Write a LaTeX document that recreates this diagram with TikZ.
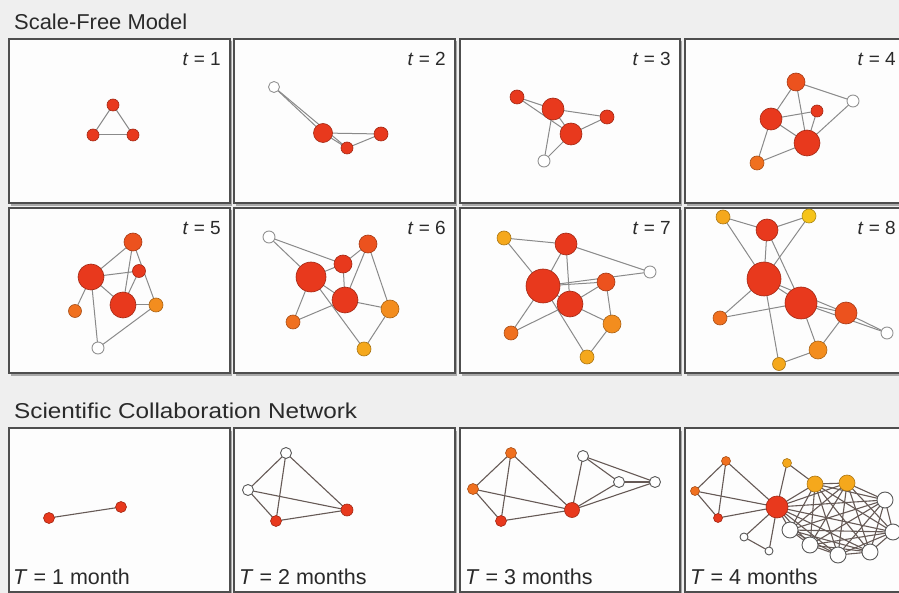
\documentclass[tikz,border=0pt]{standalone}
\usepackage{fontspec}
\setmainfont{Liberation Sans}
\pgfdeclarelayer{panels}
\pgfdeclarelayer{edges}
\pgfsetlayers{panels,edges,main}
\definecolor{bgc}{HTML}{EFEFEF}
\definecolor{pnl}{HTML}{FDFDFD}
\definecolor{pbd}{HTML}{4E4E4E}
\definecolor{shd}{HTML}{A8A8A8}
\definecolor{edgec}{HTML}{8A8A8A}
\definecolor{edgeb}{HTML}{665A56}
\definecolor{txtc}{HTML}{2A2A2A}
\definecolor{cR}{HTML}{E8391D}
\definecolor{cOa}{HTML}{EC521E}
\definecolor{cOb}{HTML}{F0701F}
\definecolor{cOc}{HTML}{F38D1E}
\definecolor{cYa}{HTML}{F5A81C}
\definecolor{cYb}{HTML}{F6C41A}
\tikzset{
  base/.style={circle, inner sep=0pt, line width=0.6pt},
  sz/.style={minimum size=#1pt},
  nR/.style={base, fill=cR, draw=cR!70!black},
  nOa/.style={base, fill=cOa, draw=cOa!70!black},
  nOb/.style={base, fill=cOb, draw=cOb!70!black},
  nOc/.style={base, fill=cOc, draw=cOc!70!black},
  nYa/.style={base, fill=cYa, draw=cYa!70!black},
  nYb/.style={base, fill=cYb, draw=cYb!70!black},
  nW/.style={base, fill=white, draw=gray!85, line width=0.9pt},
  nWb/.style={base, fill=white, draw=black!65, line width=0.9pt},
  ed/.style={draw=edgec, line width=1pt},
  edb/.style={draw=edgeb, line width=1.1pt},
  panelbox/.style={draw=pbd, line width=2pt, fill=pnl},
  ttl/.style={text=txtc, font=\fontsize{21.5}{25}\selectfont, inner sep=0pt},
  tlab/.style={text=txtc, font=\fontsize{19}{22}\selectfont, inner sep=0pt},
  Tlab/.style={text=txtc, font=\fontsize{21.5}{25}\selectfont, inner sep=0pt},
}
\begin{document}
\begin{tikzpicture}[x=1pt,y=-1pt]
\useasboundingbox (0,0) rectangle (899,593);
\begin{pgfonlayer}{panels}
\fill[bgc] (0,0) rectangle (899,593);
\foreach \l/\r in {9/230,234/455,460/680,685/905}{
  \foreach \t/\b in {39/203,208/373,428/592}{
    \fill[shd] (\l+1.5,\t+2.5) rectangle (\r+1.5,\b+3);
    \draw[panelbox] (\l,\t) rectangle (\r,\b);
  }
}
\end{pgfonlayer}

% titles
\node[ttl, anchor=base west] (title1) at (14,30) {\scalebox{1.02}[1]{Scale-Free Model}};
\node[ttl, anchor=base west] (title2) at (14,418) {\scalebox{1.13}[1]{Scientific Collaboration Network}};

% time labels
\node[tlab, anchor=base east] (lt1) at (221,66) {\textit{t} = 1};
\node[tlab, anchor=base east] (lt2) at (446,66) {\textit{t} = 2};
\node[tlab, anchor=base east] (lt3) at (671,66) {\textit{t} = 3};
\node[tlab, anchor=base east] (lt4) at (896,66) {\textit{t} = 4};
\node[tlab, anchor=base east] (lt5) at (221,235) {\textit{t} = 5};
\node[tlab, anchor=base east] (lt6) at (446,235) {\textit{t} = 6};
\node[tlab, anchor=base east] (lt7) at (671,235) {\textit{t} = 7};
\node[tlab, anchor=base east] (lt8) at (896,235) {\textit{t} = 8};
\node[Tlab, anchor=base west] (LT1) at (13,584) {\textit{T} = 1 month};
\node[Tlab, anchor=base west] (LT2) at (239,584) {\textit{T} = 2 months};
\node[Tlab, anchor=base west] (LT3) at (465,584) {\textit{T} = 3 months};
\node[Tlab, anchor=base west] (LT4) at (690,584) {\textit{T} = 4 months};

% ---- panel t=1
\node[nR,sz=12] (p1a) at (113,105) {};
\node[nR,sz=12] (p1b) at (93,135) {};
\node[nR,sz=12] (p1c) at (133,135) {};
% ---- panel t=2
\node[nW,sz=11] (p2o) at (274,87) {};
\node[nR,sz=19] (p2a) at (323,133) {};
\node[nR,sz=12] (p2b) at (347,148) {};
\node[nR,sz=14] (p2c) at (381,134) {};
% ---- panel t=3
\node[nR,sz=14] (p3a) at (517,97) {};
\node[nR,sz=22] (p3b) at (553,109) {};
\node[nR,sz=14] (p3c) at (607,117) {};
\node[nR,sz=22] (p3d) at (571,134) {};
\node[nW,sz=12] (p3e) at (544,161) {};
% ---- panel t=4
\node[nOa,sz=18] (p4a) at (796,82) {};
\node[nW,sz=12] (p4o) at (853,101) {};
\node[nR,sz=22] (p4b) at (771,119) {};
\node[nR,sz=12] (p4c) at (817,111) {};
\node[nR,sz=26] (p4d) at (807,143) {};
\node[nOb,sz=14] (p4e) at (757,163) {};
% ---- panel t=5
\node[nOa,sz=18] (p5a) at (133,242) {};
\node[nR,sz=26] (p5b) at (91,277) {};
\node[nR,sz=13] (p5c) at (139,271) {};
\node[nR,sz=26] (p5d) at (123,305) {};
\node[nOc,sz=14] (p5e) at (156,305) {};
\node[nOb,sz=13] (p5f) at (75,311) {};
\node[nW,sz=12] (p5o) at (98,348) {};
% ---- panel t=6
\node[nW,sz=12] (p6o) at (269,237) {};
\node[nOa,sz=18] (p6a) at (368,244) {};
\node[nR,sz=18] (p6b) at (343,264) {};
\node[nR,sz=30] (p6c) at (311,277) {};
\node[nR,sz=26] (p6d) at (345,300) {};
\node[nOc,sz=18] (p6e) at (390,309) {};
\node[nOb,sz=14] (p6f) at (293,322) {};
\node[nYa,sz=14] (p6g) at (364,349) {};
% ---- panel t=7
\node[nYa,sz=14] (p7a) at (504,238) {};
\node[nR,sz=22] (p7b) at (566,244) {};
\node[nW,sz=12] (p7o) at (650,272) {};
\node[nOa,sz=18] (p7c) at (606,282) {};
\node[nR,sz=34] (p7d) at (543,286) {};
\node[nR,sz=26] (p7e) at (570,304) {};
\node[nOc,sz=18] (p7f) at (612,324) {};
\node[nOb,sz=14] (p7g) at (511,333) {};
\node[nYa,sz=14] (p7h) at (587,357) {};
% ---- panel t=8
\node[nYa,sz=14] (p8a) at (723,217) {};
\node[nR,sz=22] (p8b) at (767,230) {};
\node[nYb,sz=14] (p8c) at (809,216) {};
\node[nR,sz=34] (p8d) at (764,279) {};
\node[nR,sz=32] (p8e) at (801,303) {};
\node[nOa,sz=22] (p8f) at (846,313) {};
\node[nW,sz=12] (p8o) at (887,333) {};
\node[nOb,sz=14] (p8g) at (720,318) {};
\node[nOc,sz=18] (p8h) at (818,350) {};
\node[nYa,sz=13] (p8i) at (779,364) {};
% ---- T=1
\node[nR,sz=11] (q1a) at (49,518) {};
\node[nR,sz=11] (q1b) at (121,507) {};
% ---- T=2
\node[nWb,sz=11] (q2a) at (286,453) {};
\node[nWb,sz=11] (q2b) at (248,490) {};
\node[nR,sz=11] (q2c) at (276,521) {};
\node[nR,sz=12] (q2d) at (347,510) {};
% ---- T=3
\node[nOb,sz=11] (q3a) at (511,453) {};
\node[nOb,sz=11] (q3b) at (473,489) {};
\node[nR,sz=11] (q3c) at (501,521) {};
\node[nR,sz=15] (q3d) at (572,510) {};
\node[nWb,sz=11] (q3e) at (583,456) {};
\node[nWb,sz=11] (q3f) at (619,482) {};
\node[nWb,sz=11] (q3g) at (655,482) {};
% ---- T=4
\node[nOb,sz=9] (q4a) at (726,461) {};
\node[nOb,sz=9] (q4b) at (695,491) {};
\node[nR,sz=9] (q4c) at (718,518) {};
\node[nR,sz=22] (q4d) at (777,507) {};
\node[nYa,sz=9] (q4e) at (787,463) {};
\node[nYa,sz=16] (q4w1) at (815,484) {};
\node[nYa,sz=16] (q4w2) at (847,483) {};
\node[nWb,sz=16] (q4w3) at (885,500) {};
\node[nWb,sz=16] (q4w4) at (893,532) {};
\node[nWb,sz=16] (q4w5) at (870,552) {};
\node[nWb,sz=16] (q4w6) at (838,555) {};
\node[nWb,sz=16] (q4w7) at (810,545) {};
\node[nWb,sz=16] (q4w8) at (790,530) {};
\node[nWb,sz=8] (q4n) at (744,537) {};
\node[nWb,sz=8] (q4p) at (769,551) {};

\begin{pgfonlayer}{edges}
\foreach \u/\v in {a/b,a/c,b/c} \draw[ed] (p1\u.center) -- (p1\v.center);
\foreach \u/\v in {o/a,o/b,a/b,a/c,b/c} \draw[ed] (p2\u.center) -- (p2\v.center);
\foreach \u/\v in {a/b,a/d,b/c,d/c,b/d,b/e,d/e} \draw[ed] (p3\u.center) -- (p3\v.center);
\foreach \u/\v in {a/o,a/b,a/d,b/c,b/d,c/d,d/o,b/e,e/d} \draw[ed] (p4\u.center) -- (p4\v.center);
\foreach \u/\v in {a/b,a/d,a/e,b/c,b/d,c/d,b/f,b/o,d/e,e/o} \draw[ed] (p5\u.center) -- (p5\v.center);
\foreach \u/\v in {o/b,o/c,b/a,c/b,b/d,a/d,a/e,c/d,c/f,f/d,d/e,c/g,e/g} \draw[ed] (p6\u.center) -- (p6\v.center);
\foreach \u/\v in {a/b,a/d,b/o,b/d,b/e,d/c,d/o,c/e,c/f,e/f,d/e,d/g,g/e,d/h,f/h} \draw[ed] (p7\u.center) -- (p7\v.center);
\foreach \u/\v in {a/b,c/b,a/d,c/d,b/d,b/e,d/e,d/f,e/f,f/o,e/o,d/g,g/e,d/i,e/h,h/i,f/h} \draw[ed] (p8\u.center) -- (p8\v.center);
\draw[edb] (q1a.center) -- (q1b.center);
\foreach \u/\v in {a/b,a/c,a/d,b/c,b/d,c/d} \draw[edb] (q2\u.center) -- (q2\v.center);
\foreach \u/\v in {a/b,a/c,a/d,b/c,b/d,c/d,d/e,d/f,d/g,e/f,e/g,f/g} \draw[edb] (q3\u.center) -- (q3\v.center);
\foreach \u/\v in {a/b,a/c,a/d,b/c,b/d,c/d,d/e,e/w1,d/n,d/p,n/p} \draw[edb] (q4\u.center) -- (q4\v.center);
\foreach \i in {1,...,8}{
  \draw[edb] (q4d.center) -- (q4w\i.center);
  \foreach \j in {1,...,8}{
    \ifnum\i<\j \draw[edb] (q4w\i.center) -- (q4w\j.center); \fi
  }
}
\end{pgfonlayer}
\end{tikzpicture}
\end{document}
